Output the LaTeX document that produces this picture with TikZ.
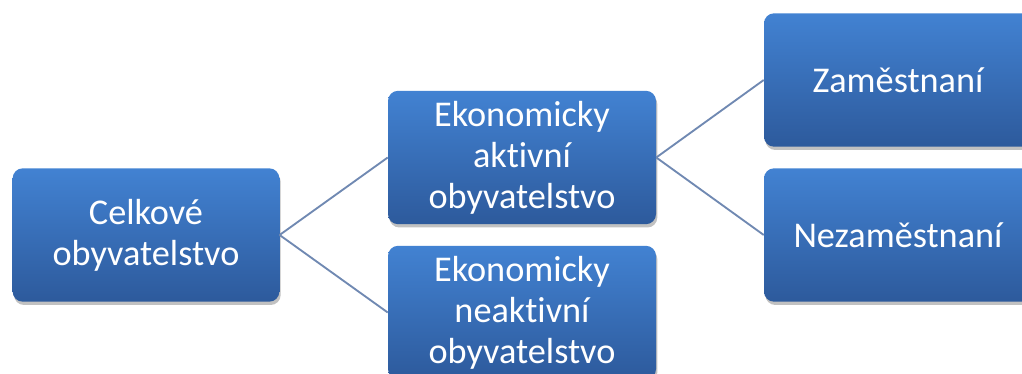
\documentclass[tikz,border=0pt]{standalone}
\usepackage{fontspec}
\setmainfont{Carlito}[Ligatures={NoCommon,NoContextual,NoRare},Contextuals=NoAlternate]
\usetikzlibrary{shadows}
\definecolor{boxtop}{HTML}{4282D2}
\definecolor{boxbot}{HTML}{2D5A9C}
\definecolor{linkc}{HTML}{7089B2}
\tikzset{
  box/.style={rectangle, rounded corners=7.5pt, top color=boxtop, bottom color=boxbot,
    draw=none, minimum width=201pt, minimum height=100pt, inner sep=0pt,
    text=white, align=center, font=\fontsize{27.2}{30.75}\selectfont,
    drop shadow={shadow xshift=1pt, shadow yshift=-2.5pt, opacity=0.35, fill=black!70}},
  link/.style={draw=linkc, line width=1.4pt}
}
\begin{document}
\begin{tikzpicture}[x=0.75pt, y=-0.75pt]
\useasboundingbox (0,0) rectangle (1022,374);
\clip (0,0) rectangle (1022,374);
\node[box, minimum width=200pt] (cel) at (146,235) {Celkové\\obyvatelstvo};
\node[box] (akt) at (522,157.5) {Ekonomicky\\aktivní\\obyvatelstvo};
\node[box] (neakt) at (522,312.5) {Ekonomicky\\neaktivní\\obyvatelstvo};
\node[box] (zam) at (898,80) {Zaměstnaní};
\node[box] (nezam) at (898,235) {Nezaměstnaní};
\draw[link] (cel.east) -- (akt.west);
\draw[link] (cel.east) -- (neakt.west);
\draw[link] (akt.east) -- (zam.west);
\draw[link] (akt.east) -- (nezam.west);
\end{tikzpicture}
\end{document}
